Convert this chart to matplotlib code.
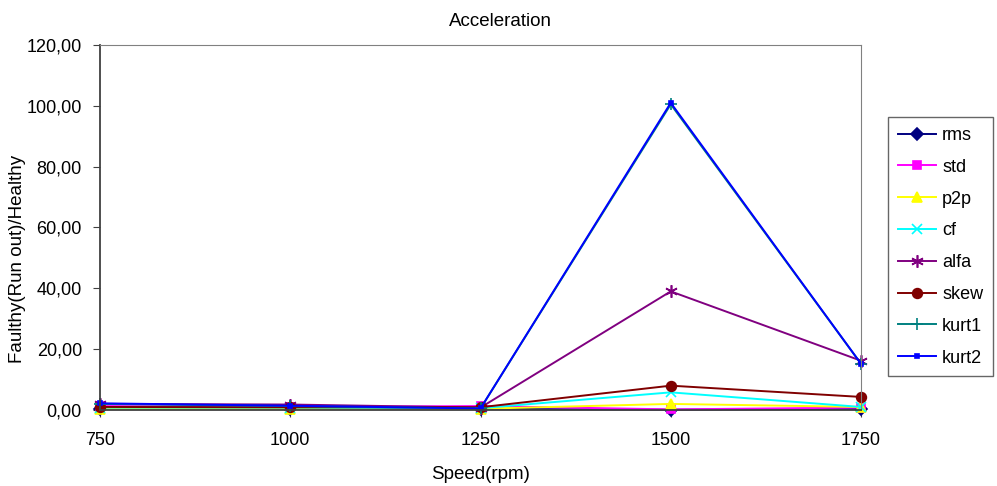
import matplotlib
matplotlib.use("Agg")
import matplotlib.pyplot as plt
from matplotlib.ticker import FuncFormatter

plt.rcParams["font.family"] = ["Liberation Sans", "DejaVu Sans"]

speed = [750, 1000, 1250, 1500, 1750]

rms = [0.4, 0.4, 0.4, 0.1, 0.4]
std = [1.3, 1.0, 1.3, 0.2, 0.8]
p2p = [0.4, 0.4, 0.4, 2.0, 1.0]
cf = [0.8, 0.8, 0.6, 5.8, 1.0]
alfa = [2.0, 1.8, 0.8, 39.0, 16.2]
skew = [1.0, 0.9, 0.9, 8.0, 4.3]
kurt1 = [2.0, 1.3, 0.5, 100.5, 15.2]
kurt2 = [2.2, 1.4, 0.5, 101.0, 15.2]

series = [
    ("rms", rms, "#000080", "D", 6),
    ("std", std, "#FF00FF", "s", 6),
    ("p2p", p2p, "#FFFF00", "^", 7),
    ("cf", cf, "#00FFFF", "x", 7),
    ("alfa", alfa, "#800080", (6, 2, 0), 9),
    ("skew", skew, "#800000", "o", 7),
    ("kurt1", kurt1, "#008080", "+", 8),
    ("kurt2", kurt2, "#0000FF", "s", 3),
]

fig = plt.figure(figsize=(9.97, 4.86), dpi=100)
ax = fig.add_axes([100 / 997, 76 / 486, 761 / 997, 365 / 486])

for name, vals, col, mk, ms in series:
    ax.plot(speed, vals, color=col, marker=mk, markersize=ms, lw=1.4,
            mew=1.2, label=name, clip_on=False)

ax.set_xlim(750, 1750)
ax.set_ylim(0, 120)
ax.set_xticks(speed)
ax.set_yticks(range(0, 121, 20))
ax.yaxis.set_major_formatter(FuncFormatter(lambda v, p: f"{v:.2f}".replace(".", ",")))
ax.tick_params(direction="out", length=5, labelsize=13, color="#404040")
ax.tick_params(axis="x", pad=11)
ax.tick_params(axis="y", pad=8)

for s in ["top", "right"]:
    ax.spines[s].set_color("#808080")
for s in ["left", "bottom"]:
    ax.spines[s].set_color("#404040")
    ax.spines[s].set_linewidth(1.3)

fig.text(500 / 997, 1 - 22 / 486, "Acceleration", fontsize=13.5,
         ha="center", va="center")
ax.set_xlabel("Speed(rpm)", fontsize=13.5, labelpad=12)
fig.text(18 / 997, 0.5 * (45 + 410) / 486, "Faulthy(Run out)/Healthy",
         fontsize=13.5, rotation=90, ha="center", va="center")

leg = fig.legend(loc="upper left", bbox_to_anchor=(888 / 997, 1 - 117 / 486),
                 fontsize=13, frameon=True, fancybox=False,
                 edgecolor="#404040", handlelength=2.1, handletextpad=0.35,
                 labelspacing=0.82, borderpad=0.55, borderaxespad=0)
leg.get_frame().set_linewidth(1.0)

fig.savefig("out.png", dpi=100)
